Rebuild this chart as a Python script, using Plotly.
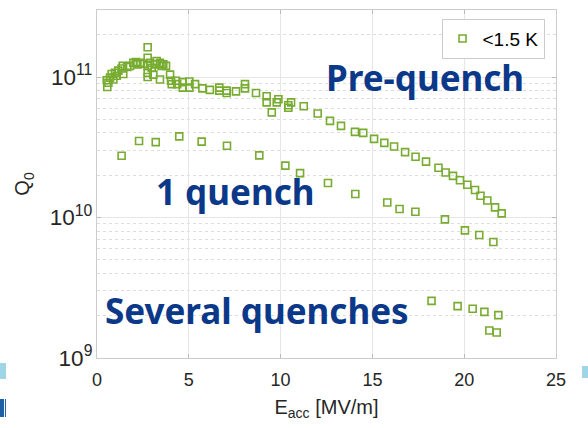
import plotly.graph_objects as go

# Q0 vs accelerating gradient, T < 1.5 K
pre_e = [0.53, 0.56, 0.62, 0.71, 0.80, 0.89, 0.98, 1.07, 1.16, 1.34, 1.40, 1.43, 1.65, 1.80,
         1.98, 2.12, 2.20, 2.34, 2.52, 2.76, 2.76, 2.76, 2.76, 2.76, 2.89, 2.98, 3.07, 3.16,
         3.25, 3.43, 3.43, 3.52, 3.61, 3.76, 3.98, 4.03, 4.07, 4.30, 4.37, 4.67, 4.67, 5.03,
         5.03, 5.34, 5.74, 6.15, 6.66, 6.66, 7.06, 7.06, 7.57, 8.06, 8.06, 8.66, 9.24, 9.24,
         9.52, 9.79, 9.88, 10.42, 10.42, 10.57, 11.26, 12.02, 12.69, 13.29, 14.05, 14.50,
         15.09, 15.65, 16.18, 16.78, 17.35, 17.92, 18.60, 18.99, 19.39, 19.77, 20.17, 20.59,
         20.89, 21.26, 21.68, 22.04]
pre_q = [9.48e10, 8.5e10, 9.1e10, 9.9e10, 1.05e11, 9.6e10, 1.07e11, 1.02e11, 1.11e11, 1.15e11,
         1.20e11, 1.05e11, 1.18e11, 1.20e11, 1.26e11, 1.28e11, 1.23e11, 1.26e11, 1.24e11,
         1.63e11, 1.37e11, 1.20e11, 1.07e11, 1.00e11, 1.26e11, 1.16e11, 1.04e11, 1.23e11,
         1.30e11, 1.26e11, 9.6e10, 1.20e11, 1.23e11, 1.20e11, 1.04e11, 9.4e10, 8.9e10, 9.4e10,
         8.9e10, 9.2e10, 8.4e10, 9.3e10, 8.4e10, 8.9e10, 8.3e10, 8.1e10, 8.4e10, 8.0e10, 8.0e10,
         7.7e10, 7.9e10, 8.9e10, 8.3e10, 7.7e10, 7.3e10, 6.6e10, 5.6e10, 6.6e10, 6.95e10,
         6.05e10, 6.3e10, 6.6e10, 6.2e10, 5.5e10, 4.87e10, 4.49e10, 4.07e10, 4.0e10, 3.63e10,
         3.4e10, 3.2e10, 2.92e10, 2.71e10, 2.5e10, 2.26e10, 2.09e10, 1.98e10, 1.84e10, 1.71e10,
         1.57e10, 1.43e10, 1.32e10, 1.18e10, 1.07e10]

one_e = [1.34, 2.29, 3.20, 4.48, 5.70, 7.08, 8.84, 10.26, 11.06, 12.58, 14.07, 15.81, 16.48,
         17.34, 18.95, 20.04, 20.82, 21.59]
one_q = [2.75e10, 3.5e10, 3.44e10, 3.78e10, 3.47e10, 3.24e10, 2.77e10, 2.34e10, 2.07e10,
         1.76e10, 1.47e10, 1.28e10, 1.15e10, 1.10e10, 9.7e9, 8.1e9, 7.5e9, 6.7e9]

sev_e = [18.22, 19.64, 20.46, 21.10, 21.86, 21.37, 21.77]
sev_q = [2.55e9, 2.34e9, 2.24e9, 2.13e9, 2.02e9, 1.57e9, 1.52e9]

series = [("<1.5 K", pre_e, pre_q, True),
          ("one quench", one_e, one_q, False),
          ("several quenches", sev_e, sev_q, False)]

labels = [("Pre-quench", 17.86, 11.0),
          ("1 quench", 7.5, 10.185),
          ("Several quenches", 8.7, 9.335)]

green = "#77AC30"
navy = "#0B3889"
tick_font = dict(family="Liberation Sans, Arial, sans-serif", size=18, color="#262626")
title_font = dict(family="Liberation Sans, Arial, sans-serif", size=20, color="#262626")

fig = go.Figure()
for name, xs, ys, show in series:
    fig.add_trace(go.Scatter(
        x=xs, y=ys, mode="markers", name=name, showlegend=show, legendgroup="T",
        marker=dict(symbol="square-open", size=7, color=green, line=dict(width=1.6, color=green)),
    ))

for text, xv, yv in labels:
    fig.add_annotation(x=xv, y=yv, text=f"<b>{text}</b>", showarrow=False,
                       font=dict(family="Noto Sans, Open Sans, sans-serif", size=35, color=navy))

# slide decoration fragments at the edges
deco = [(-0.2113, -0.1983, -0.0144, -0.0603, "#9ED6E8"),
        (1.0566, 1.0697, -0.0230, -0.0575, "#9ED6E8"),
        (-0.2113, -0.2025, -0.1178, -0.1695, "#1F5FA8"),
        (-0.2004, -0.1983, -0.1178, -0.1695, "#1F5FA8")]
for x0, x1, y0, y1, c in deco:
    fig.add_shape(type="rect", xref="paper", yref="paper", x0=x0, x1=x1, y0=y0, y1=y1,
                  fillcolor=c, line=dict(width=0), layer="above")

fig.update_layout(
    width=588, height=428,
    margin=dict(l=97, r=32, t=10, b=70),
    paper_bgcolor="white", plot_bgcolor="white",
    font=tick_font,
    legend=dict(x=0.975, y=0.975, xanchor="right", yanchor="top",
                bgcolor="white", bordercolor="#CCCCCC", borderwidth=1,
                font=dict(family="Liberation Sans, Arial, sans-serif", size=19, color="#000000")),
    xaxis=dict(range=[0, 25], dtick=5, showgrid=True, gridcolor="#E6E6E6", gridwidth=1,
               showline=True, linecolor="#CCCCCC", mirror="ticks", ticks="inside", ticklen=4,
               tickcolor="#BBBBBB", zeroline=False, tickfont=tick_font, ticklabelstandoff=5,
               title=dict(text="E<sub>acc</sub> [MV/m]", font=title_font, standoff=11)),
    yaxis=dict(type="log", range=[9, 11.477], dtick=1, exponentformat="power",
               showgrid=True, gridcolor="#E6E6E6", gridwidth=1,
               showline=True, linecolor="#CCCCCC", mirror="ticks", ticks="inside", ticklen=4,
               tickcolor="#BBBBBB", zeroline=False, tickfont=tick_font,
               minor=dict(dtick="D1", showgrid=True, griddash="dot", gridcolor="#DDDDDD",
                          ticks=""),
               title=dict(text="Q<sub>0</sub>", font=title_font, standoff=14)),
)

fig.write_html("out.html")
